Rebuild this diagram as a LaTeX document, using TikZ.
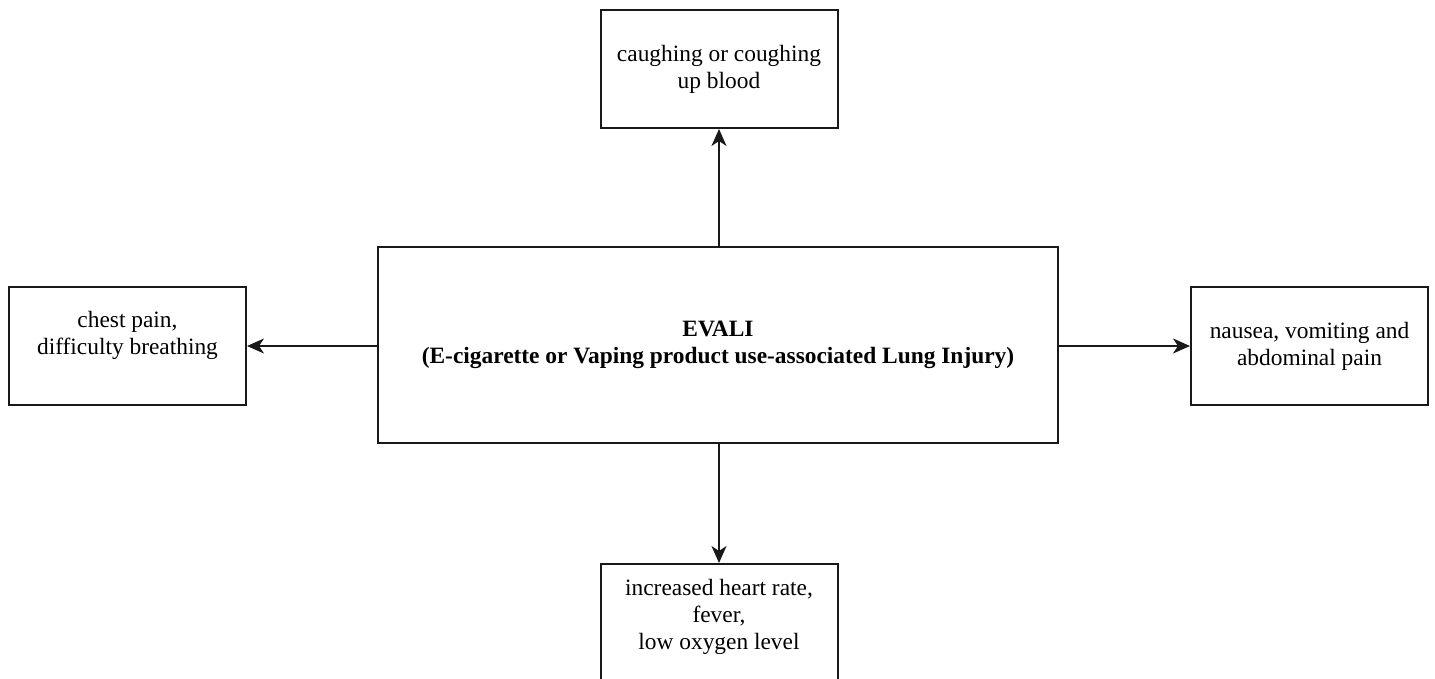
\documentclass[tikz,border=0pt]{standalone}
\usepackage{fontspec}
\setmainfont{Liberation Serif}
\usetikzlibrary{arrows.meta}
\begin{document}
\begin{tikzpicture}[x=1pt,y=-1pt,
  box/.style={draw=black!90, line width=2pt, rectangle, inner sep=0pt, align=center,
    font=\fontsize{23.4}{27}\selectfont},
  conn/.style={line width=2pt, draw=black!90, -{Stealth[length=17pt,width=15pt,inset=5pt]}}]
\useasboundingbox (0,0) rectangle (1435,679);
\clip (0,0) rectangle (1435,679);
\node[box, minimum width=680pt, minimum height=196pt] (c) at (718,345)
  {\bfseries EVALI\\\bfseries (E-cigarette or Vaping product use-associated Lung Injury)};
\node[box, minimum width=237pt, minimum height=118pt] (t) at (719,69)
  {caughing or coughing\\up blood};
\node[box, minimum width=237pt, minimum height=118pt] (l) at (127.5,346)
  {chest pain,\\difficulty breathing\\\mbox{}};
\node[box, minimum width=237pt, minimum height=118pt] (r) at (1309.5,346)
  {nausea, vomiting and\\abdominal pain};
\node[box, minimum width=237pt, minimum height=130pt, anchor=north] (b) at (719,563) {};
\node[align=center, font=\fontsize{23.4}{27}\selectfont] (bt) at (719,617)
  {increased heart rate,\\fever,\\low oxygen level};
\draw[conn] (c.north -| t.south) -- (t.south);
\draw[conn] (c.west |- l.east) -- (l.east);
\draw[conn] (c.east |- r.west) -- (r.west);
\draw[conn] (c.south -| b.north) -- (b.north);
\end{tikzpicture}
\end{document}
